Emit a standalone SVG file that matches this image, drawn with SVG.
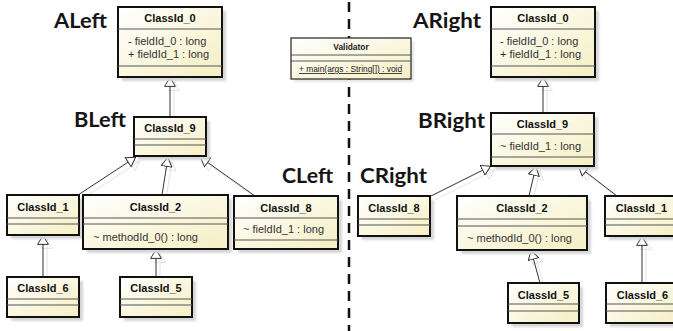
<svg xmlns="http://www.w3.org/2000/svg" width="673" height="331" viewBox="0 0 673 331">
  <style>
    .box { fill: url(#classFill); stroke: #111; stroke-width: 2; }
    .thin { fill: url(#classFill); stroke: #222; stroke-width: 1.2; }
    .shadow { fill: #d6d6d6; filter: url(#soft); }
    .div { stroke: #555; stroke-width: 1; }
    .name { font-family: "Liberation Sans", Arial, sans-serif; font-weight: bold; font-size: 11px; fill: #111; text-anchor: middle; }
    .member { font-family: "Liberation Sans", Arial, sans-serif; font-size: 11px; fill: #333; }
    .small { font-family: "Liberation Sans", Arial, sans-serif; font-size: 8.4px; fill: #222; }
    .label { font-family: Lato, "Open Sans", sans-serif; font-weight: bold; font-size: 21px; fill: #151515; }
    .edge { stroke: #333; stroke-width: 1; fill: none; marker-end: url(#gen); }
    .edge-shadow { stroke: #e3e3e3; stroke-width: 1; fill: none; marker-end: url(#genShadow); }
    .split { stroke: #111; stroke-width: 2.5; stroke-dasharray: 10 7; }
  </style>
  <defs>
    <linearGradient id="classFill" x1="0" y1="0" x2="1" y2="1">
      <stop offset="0" stop-color="#ffffff"/>
      <stop offset="1" stop-color="#f5efc2"/>
    </linearGradient>
    <filter id="soft" x="-10%" y="-10%" width="120%" height="120%">
      <feGaussianBlur stdDeviation="1"/>
    </filter>
    <!-- hollow triangle for generalization -->
    <marker id="gen" viewBox="0 0 10 12" refX="10" refY="6" markerUnits="userSpaceOnUse" markerWidth="10" markerHeight="12" orient="auto">
      <path d="M0.6,0.6 L9.5,6 L0.6,11.4 Z" fill="#fff" stroke="#333" stroke-width="1"/>
    </marker>
    <marker id="genShadow" viewBox="0 0 10 12" refX="10" refY="6" markerUnits="userSpaceOnUse" markerWidth="10" markerHeight="12" orient="auto">
      <path d="M0.6,0.6 L9.5,6 L0.6,11.4 Z" fill="none" stroke="#e3e3e3" stroke-width="1"/>
    </marker>
  </defs>

  <rect width="673" height="331" fill="#fff"/>

  <!-- divider between the two variants -->
  <line class="split" x1="349" y1="2" x2="349" y2="331"/>

  <!-- section labels -->
  <g id="labels">
    <text class="label" x="54" y="28" textLength="53" lengthAdjust="spacingAndGlyphs">ALeft</text>
    <text class="label" x="74" y="127" textLength="52" lengthAdjust="spacingAndGlyphs">BLeft</text>
    <text class="label" x="282" y="183" textLength="51" lengthAdjust="spacingAndGlyphs">CLeft</text>
    <text class="label" x="413" y="28" textLength="68" lengthAdjust="spacingAndGlyphs">ARight</text>
    <text class="label" x="418" y="128" textLength="67" lengthAdjust="spacingAndGlyphs">BRight</text>
    <text class="label" x="360" y="183" textLength="67" lengthAdjust="spacingAndGlyphs">CRight</text>
  </g>

  <!-- generalization connectors -->
  <g id="connectors">
    <g transform="translate(4,4)">
      <line class="edge-shadow" x1="170" y1="117" x2="170" y2="77"/>
      <line class="edge-shadow" x1="78" y1="195" x2="136" y2="157"/>
      <line class="edge-shadow" x1="162" y1="195" x2="168" y2="157"/>
      <line class="edge-shadow" x1="255" y1="196" x2="200" y2="157"/>
      <line class="edge-shadow" x1="43" y1="277" x2="43" y2="235"/>
      <line class="edge-shadow" x1="156" y1="277" x2="156" y2="249"/>
      <line class="edge-shadow" x1="543" y1="113" x2="543" y2="77"/>
      <line class="edge-shadow" x1="431" y1="196" x2="491" y2="166"/>
      <line class="edge-shadow" x1="529" y1="196" x2="536" y2="166"/>
      <line class="edge-shadow" x1="617" y1="196" x2="578" y2="166"/>
      <line class="edge-shadow" x1="540" y1="283" x2="531" y2="250"/>
      <line class="edge-shadow" x1="642" y1="283" x2="642" y2="236"/>
    </g>
    <line class="edge" x1="170" y1="117" x2="170" y2="77"/>
    <line class="edge" x1="78" y1="195" x2="136" y2="157"/>
    <line class="edge" x1="162" y1="195" x2="168" y2="157"/>
    <line class="edge" x1="255" y1="196" x2="200" y2="157"/>
    <line class="edge" x1="43" y1="277" x2="43" y2="235"/>
    <line class="edge" x1="156" y1="277" x2="156" y2="249"/>
    <line class="edge" x1="543" y1="113" x2="543" y2="77"/>
    <line class="edge" x1="431" y1="196" x2="491" y2="166"/>
    <line class="edge" x1="529" y1="196" x2="536" y2="166"/>
    <line class="edge" x1="617" y1="196" x2="578" y2="166"/>
    <line class="edge" x1="540" y1="283" x2="531" y2="250"/>
    <line class="edge" x1="642" y1="283" x2="642" y2="236"/>
  </g>

  <!-- left variant -->
  <g id="left-ClassId_0">
    <rect class="shadow" x="122" y="11" width="104" height="70"/>
    <rect class="box" x="118" y="7" width="104" height="70"/>
    <line class="div" x1="118" y1="29" x2="222" y2="29"/>
    <line class="div" x1="118" y1="66" x2="222" y2="66"/>
    <text class="name" x="170" y="22">ClassId_0</text>
    <text class="member" x="128" y="45">- fieldId_0 : long</text>
    <text class="member" x="128" y="58">+ fieldId_1 : long</text>
  </g>
  <g id="left-ClassId_9">
    <rect class="shadow" x="138" y="121" width="72" height="39"/>
    <rect class="box" x="134" y="117" width="72" height="39"/>
    <line class="div" x1="134" y1="139" x2="206" y2="139"/>
    <line class="div" x1="134" y1="145" x2="206" y2="145"/>
    <text class="name" x="170" y="132">ClassId_9</text>
  </g>
  <g id="left-ClassId_1">
    <rect class="shadow" x="11" y="199" width="72" height="40"/>
    <rect class="box" x="7" y="195" width="72" height="40"/>
    <line class="div" x1="7" y1="218" x2="79" y2="218"/>
    <line class="div" x1="7" y1="224" x2="79" y2="224"/>
    <text class="name" x="43" y="211">ClassId_1</text>
  </g>
  <g id="left-ClassId_2">
    <rect class="shadow" x="87" y="199" width="145" height="54"/>
    <rect class="box" x="83" y="195" width="145" height="54"/>
    <line class="div" x1="83" y1="218" x2="228" y2="218"/>
    <line class="div" x1="83" y1="224" x2="228" y2="224"/>
    <text class="name" x="155.5" y="211">ClassId_2</text>
    <text class="member" x="93" y="241">~ methodId_0() : long</text>
  </g>
  <g id="left-ClassId_8">
    <rect class="shadow" x="238" y="200" width="104" height="53"/>
    <rect class="box" x="234" y="196" width="104" height="53"/>
    <line class="div" x1="234" y1="218" x2="338" y2="218"/>
    <line class="div" x1="234" y1="240" x2="338" y2="240"/>
    <text class="name" x="286" y="212">ClassId_8</text>
    <text class="member" x="243" y="233">~ fieldId_1 : long</text>
  </g>
  <g id="left-ClassId_6">
    <rect class="shadow" x="11" y="281" width="72" height="40"/>
    <rect class="box" x="7" y="277" width="72" height="40"/>
    <line class="div" x1="7" y1="299" x2="79" y2="299"/>
    <line class="div" x1="7" y1="305" x2="79" y2="305"/>
    <text class="name" x="43" y="292">ClassId_6</text>
  </g>
  <g id="left-ClassId_5">
    <rect class="shadow" x="124" y="281" width="72" height="40"/>
    <rect class="box" x="120" y="277" width="72" height="40"/>
    <line class="div" x1="120" y1="299" x2="192" y2="299"/>
    <line class="div" x1="120" y1="305" x2="192" y2="305"/>
    <text class="name" x="156" y="292">ClassId_5</text>
  </g>

  <!-- standalone class -->
  <g id="Validator">
    <rect class="shadow" x="294" y="41" width="120" height="41" opacity="0.6"/>
    <rect class="thin" x="291" y="38" width="120" height="41"/>
    <line class="div" x1="291" y1="55" x2="411" y2="55"/>
    <line class="div" x1="291" y1="61" x2="411" y2="61"/>
    <text class="small" x="351" y="49.5" text-anchor="middle" font-weight="bold">Validator</text>
    <text class="small" x="299" y="72" text-decoration="underline">+ main(args : String[]) : void</text>
  </g>

  <!-- right variant -->
  <g id="right-ClassId_0">
    <rect class="shadow" x="495" y="11" width="104" height="70"/>
    <rect class="box" x="491" y="7" width="104" height="70"/>
    <line class="div" x1="491" y1="29" x2="595" y2="29"/>
    <line class="div" x1="491" y1="66" x2="595" y2="66"/>
    <text class="name" x="543" y="22">ClassId_0</text>
    <text class="member" x="500" y="45">- fieldId_0 : long</text>
    <text class="member" x="500" y="58">+ fieldId_1 : long</text>
  </g>
  <g id="right-ClassId_9">
    <rect class="shadow" x="495" y="117" width="103" height="53"/>
    <rect class="box" x="491" y="113" width="103" height="53"/>
    <line class="div" x1="491" y1="134" x2="594" y2="134"/>
    <line class="div" x1="491" y1="157" x2="594" y2="157"/>
    <text class="name" x="542.5" y="128">ClassId_9</text>
    <text class="member" x="500" y="150">~ fieldId_1 : long</text>
  </g>
  <g id="right-ClassId_8">
    <rect class="shadow" x="362" y="200" width="72" height="40"/>
    <rect class="box" x="358" y="196" width="72" height="40"/>
    <line class="div" x1="358" y1="219" x2="430" y2="219"/>
    <line class="div" x1="358" y1="225" x2="430" y2="225"/>
    <text class="name" x="394" y="212">ClassId_8</text>
  </g>
  <g id="right-ClassId_2">
    <rect class="shadow" x="461" y="200" width="130" height="54"/>
    <rect class="box" x="457" y="196" width="130" height="54"/>
    <line class="div" x1="457" y1="219" x2="587" y2="219"/>
    <line class="div" x1="457" y1="226" x2="587" y2="226"/>
    <text class="name" x="522" y="212">ClassId_2</text>
    <text class="member" x="467" y="242">~ methodId_0() : long</text>
  </g>
  <g id="right-ClassId_1">
    <rect class="shadow" x="609" y="200" width="73" height="40"/>
    <rect class="box" x="605" y="196" width="73" height="40"/>
    <line class="div" x1="605" y1="219" x2="678" y2="219"/>
    <line class="div" x1="605" y1="225" x2="678" y2="225"/>
    <text class="name" x="641.5" y="212">ClassId_1</text>
  </g>
  <g id="right-ClassId_5">
    <rect class="shadow" x="512" y="287" width="71" height="40"/>
    <rect class="box" x="508" y="283" width="71" height="40"/>
    <line class="div" x1="508" y1="304" x2="579" y2="304"/>
    <line class="div" x1="508" y1="311" x2="579" y2="311"/>
    <text class="name" x="543.5" y="299">ClassId_5</text>
  </g>
  <g id="right-ClassId_6">
    <rect class="shadow" x="610" y="287" width="73" height="40"/>
    <rect class="box" x="606" y="283" width="73" height="40"/>
    <line class="div" x1="606" y1="304" x2="679" y2="304"/>
    <line class="div" x1="606" y1="311" x2="679" y2="311"/>
    <text class="name" x="642.5" y="299">ClassId_6</text>
  </g>
</svg>
